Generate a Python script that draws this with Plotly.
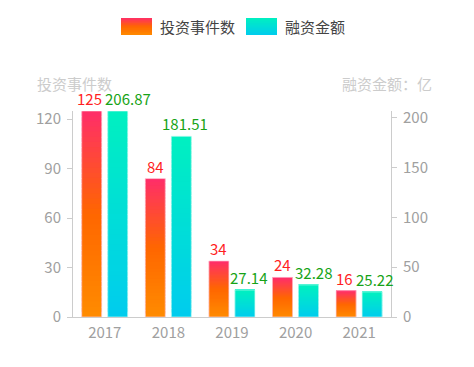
import plotly.graph_objects as go

categories = ["2017", "2018", "2019", "2020", "2021"]
events = [125, 84, 34, 24, 16]
amounts = [206.87, 181.51, 27.14, 32.28, 25.22]
series_names = ["投资事件数", "融资金额"]
left_title = "投资事件数"
right_title = "融资金额：亿"

FONT = "Noto Sans CJK SC, Microsoft YaHei, sans-serif"
N = 40

red_stops = [(0.0, (255, 140, 0)), (0.5, (255, 102, 0)), (1.0, (255, 45, 106))]
cyan_stops = [(0.0, (0, 204, 238)), (1.0, (0, 240, 192))]


def interp(stops, t):
    for (t0, c0), (t1, c1) in zip(stops[:-1], stops[1:]):
        if t <= t1:
            f = (t - t0) / (t1 - t0) if t1 > t0 else 0
            return "rgb(%d,%d,%d)" % tuple(round(a + (b - a) * f) for a, b in zip(c0, c1))
    return "rgb(%d,%d,%d)" % stops[-1][1]


# page offset of the figure (body margin) and figure size
OX, OY = 8, 8
FW, FH = 474 - OX, 367 - OY
# plot area in page pixels
PL, PR, PT, PB = 73, 391, 111, 317
L, R, T, B = PL - OX, OX + FW - PR, PT - OY, OY + FH - PB
PW, PH = PR - PL, PB - PT


def px(x):
    return (x - PL) / PW


def py(y):
    return (PB - y) / PH


fig = go.Figure()
W = 0.314
OFF1, OFF2 = -0.363, 0.046
CAT_PX = PW / len(categories)

for vals, stops, off, ax in [(events, red_stops, OFF1, "y"), (amounts, cyan_stops, OFF2, "y2")]:
    for j in range(N):
        base = [v * j / N for v in vals]
        top = [min(v, v * (j + 1.8) / N) for v in vals]
        fig.add_trace(go.Bar(
            x=categories, y=[t - b for t, b in zip(top, base)], base=base,
            yaxis=ax, width=W, offset=off,
            marker=dict(color=interp(stops, (j + 0.5) / N), line=dict(width=0)),
            showlegend=False, hoverinfo="skip"))

# outlines
fig.add_trace(go.Bar(
    x=categories, y=events, yaxis="y", width=W, offset=OFF1, name=series_names[0],
    marker=dict(color="rgba(0,0,0,0)", line=dict(width=1, color="rgba(255,200,215,0.7)")),
    showlegend=False, hoverinfo="skip"))
fig.add_trace(go.Bar(
    x=categories, y=amounts, yaxis="y2", width=W, offset=OFF2, name=series_names[1],
    marker=dict(color="rgba(0,0,0,0)", line=dict(width=1, color="rgba(190,250,240,0.7)")),
    showlegend=False, hoverinfo="skip"))

annotations = []
# value labels
c1 = (OFF1 + W / 2) * CAT_PX
c2 = (OFF2 + W / 2) * CAT_PX
green_adj = [10, 4, 4, 5, 2]
red_adj = [-2, 0, 0, 0, -2]
for i, c in enumerate(categories):
    annotations.append(dict(x=i, y=events[i], xref="x", yref="y", text=str(events[i]),
                            showarrow=False, xanchor="center", yanchor="bottom",
                            xshift=c1 + red_adj[i], yshift=0,
                            font=dict(size=15, color="#ff1f1f", family=FONT)))
    annotations.append(dict(x=i, y=amounts[i], xref="x", yref="y2", text="%.2f" % amounts[i],
                            showarrow=False, xanchor="center", yanchor="bottom",
                            xshift=c2 + green_adj[i], yshift=0,
                            font=dict(size=15, color="#17a317", family=FONT)))

shapes = []
# custom legend
for (x0, x1), stops, name, tx in [((121, 152), red_stops, series_names[0], 158),
                                  ((246, 277), cyan_stops, series_names[1], 283)]:
    y0, y1 = 18, 35
    M = 10
    for k in range(M):
        ya = y1 - (y1 - y0) * k / M
        yb = max(y0, y1 - (y1 - y0) * (k + 1.6) / M)
        shapes.append(dict(type="rect", xref="paper", yref="paper",
                           x0=px(x0), x1=px(x1), y0=py(ya), y1=py(yb),
                           fillcolor=interp(stops, (k + 0.5) / M), line=dict(width=0), layer="above"))
    annotations.append(dict(text=name, xref="paper", yref="paper", x=px(tx), y=py(26.5),
                            xanchor="left", yanchor="middle", showarrow=False,
                            font=dict(size=15, color="#444", family=FONT)))

annotations.append(dict(text=left_title, xref="paper", yref="paper", x=px(35), y=py(83),
                        xanchor="left", yanchor="middle", showarrow=False,
                        font=dict(size=15, color="#cccccc", family=FONT)))
annotations.append(dict(text=right_title, xref="paper", yref="paper", x=px(434), y=py(83),
                        xanchor="right", yanchor="middle", showarrow=False,
                        font=dict(size=15, color="#cccccc", family=FONT)))

axis_common = dict(showgrid=False, zeroline=False, showline=True, linecolor="#cccccc",
                   linewidth=1, ticks="outside", ticklen=5, tickcolor="#cccccc",
                   automargin=False,
                   tickfont=dict(size=15, color="#a0a0a0", family=FONT))

fig.update_layout(
    width=FW, height=FH, margin=dict(l=L, r=R, t=T, b=B, autoexpand=False),
    paper_bgcolor="white", plot_bgcolor="white", barmode="overlay",
    showlegend=False, font=dict(family=FONT),
    xaxis=dict(type="category", range=[-0.5, 4.5], showgrid=False, zeroline=False,
               showline=True, linecolor="#cccccc", ticks="", ticklabelstandoff=2,
               automargin=False,
               tickfont=dict(size=15, color="#a0a0a0", family=FONT)),
    yaxis=dict(range=[0, max(events)], tickmode="array", tickvals=[0, 30, 60, 90, 120],
               ticklabelstandoff=3, **axis_common),
    yaxis2=dict(range=[0, max(amounts)], overlaying="y", side="right", tickmode="array",
                tickvals=[0, 50, 100, 150, 200], ticklabelstandoff=3, **axis_common),
    shapes=shapes, annotations=annotations,
)

fig.write_html("out.html")
